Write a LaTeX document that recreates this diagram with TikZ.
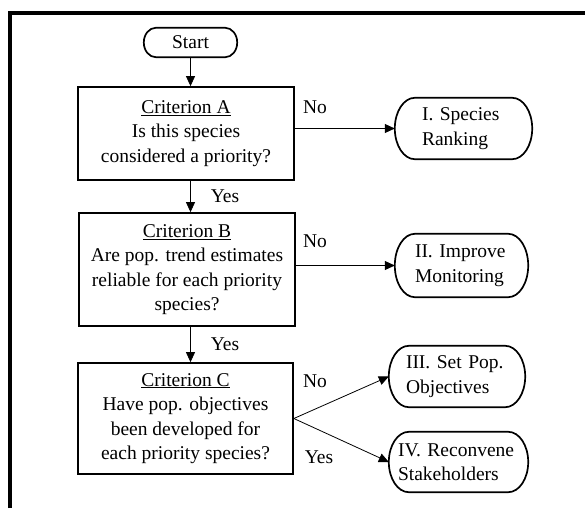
\documentclass[tikz,border=0pt]{standalone}
\usepackage{fontspec}
\setmainfont{Liberation Serif}
\usetikzlibrary{arrows.meta,calc}

% outline with half-elliptic ends round a named node
\newcommand{\termline}[2]{%
  \draw [line width=1.7pt] let \p1=(#1.north east), \p2=(#1.south west), \n1={(\y1-\y2)/2} in
    (\x1-#2,\y1) arc[start angle=90, end angle=-90, x radius=#2, y radius=\n1]
    -- (\x2+#2,\y2) arc[start angle=270, end angle=90, x radius=#2, y radius=\n1] -- cycle;}

\begin{document}
\begin{tikzpicture}[%
      x=1pt, y=-1pt,
      font=\fontsize{19.5}{24.5}\selectfont,
      crit/.style={draw, line width=1.7pt, align=center, inner sep=2pt},
      term/.style={align=left},
      lbl/.style={anchor=base, inner sep=0pt},
      arr/.style={line width=0.8pt, -{Triangle[length=10pt,width=9pt]}},
      ]
      \useasboundingbox (0,0) rectangle (585,508);
      \draw [line width=4pt] (10,508) -- (10,13) -- (585,13);

      \node [term, align=center, minimum width=93pt, minimum height=29pt] (start) at (190.5,42.5) {Start};

      \node [crit, minimum width=216pt, minimum height=93pt] (crita) at (186,133.5)
            {\underline{Criterion A}\\Is this species\\considered a priority?};
      \node [crit, minimum width=216pt, minimum height=113pt] (critb) at (187,269.5)
            {\underline{Criterion B}\\Are pop. trend estimates\\reliable for each priority\\species?};
      \node [crit, minimum width=215pt, minimum height=111pt] (critc) at (185.5,418.5)
            {\underline{Criterion C}\\Have pop. objectives\\been developed for\\each priority species?};

      \node [term, inner xsep=27pt, text width=83pt, minimum height=61pt] (rank) at (463.5,128.5) {I. Species\\Ranking};
      \node [term, inner xsep=20pt, text width=93pt, minimum height=63pt] (monitor) at (461.5,265.5) {II. Improve\\Monitoring};
      \node [term, inner xsep=17pt, text width=102pt, minimum height=61pt] (objectives) at (457,376.5) {III. Set Pop.\\Objectives};
      \node [term, inner xsep=9pt, text width=121pt, minimum height=60pt] (stakeholders) at (458.5,462) {IV. Reconvene\\Stakeholders};

      \termline{start}{12pt}
      \termline{rank}{20pt}
      \termline{monitor}{20pt}
      \termline{objectives}{20pt}
      \termline{stakeholders}{20pt}

      \draw [arr] (start) -- (crita.north -| start);
      \draw [arr] (crita.south -| start) -- (critb.north -| start);
      \draw [arr] (critb.south -| start) -- (critc.north -| start);
      \draw [arr] (crita.east |- rank) -- (rank.west);
      \draw [arr] (critb.east |- monitor) -- (monitor.west);
      \draw [arr] (critc.east) -- (objectives.west);
      \draw [arr] (critc.east) -- (stakeholders.west);

      \node [lbl] (noa) at (315,113) {No};
      \node [lbl] (yesa) at (225,202) {Yes};
      \node [lbl] (nob) at (315,247) {No};
      \node [lbl] (yesb) at (225,350) {Yes};
      \node [lbl] (noc) at (315,387) {No};
      \node [lbl] (yesc) at (319,463) {Yes};
\end{tikzpicture}
\end{document}
